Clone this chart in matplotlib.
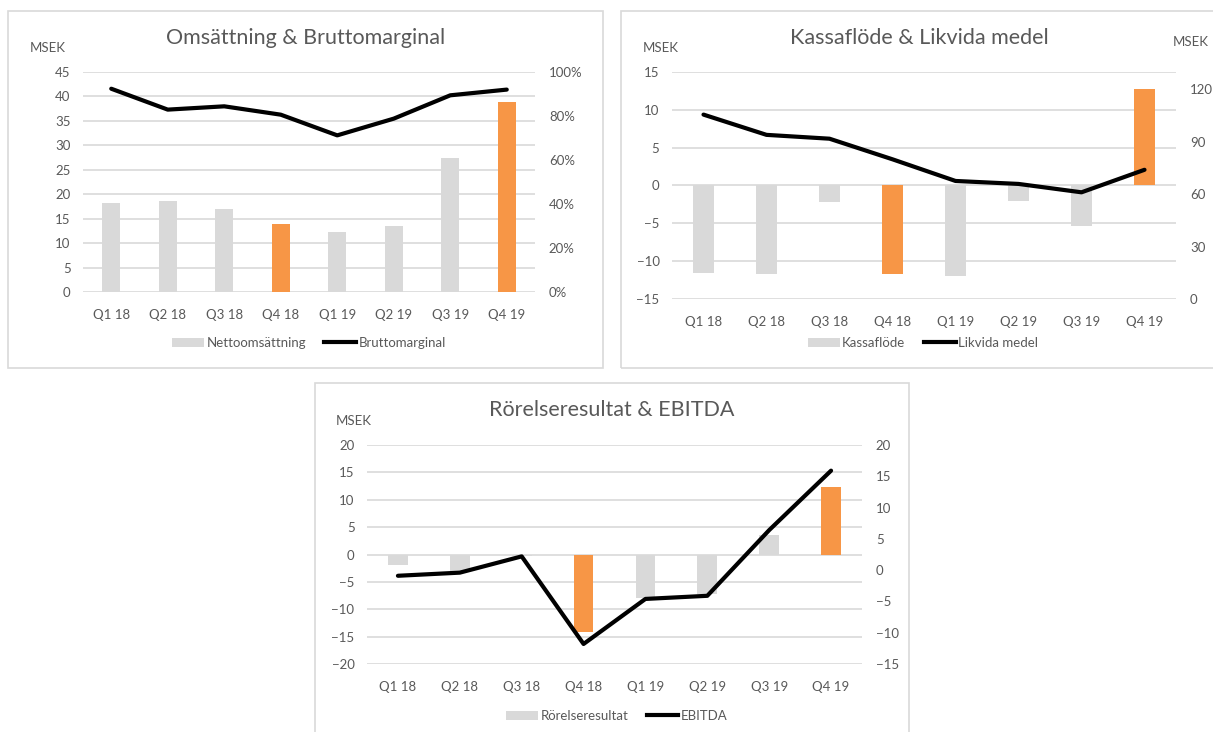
import matplotlib.pyplot as plt
from matplotlib.patches import Rectangle, Patch
from matplotlib.lines import Line2D
from matplotlib.ticker import FuncFormatter

plt.rcParams['font.family'] = ['Lato', 'DejaVu Sans']

quarters = ["Q1 18", "Q2 18", "Q3 18", "Q4 18", "Q1 19", "Q2 19", "Q3 19", "Q4 19"]

# Omsättning & Bruttomarginal
nettoomsattning = [18.2, 18.7, 16.9, 14.0, 12.2, 13.4, 27.5, 38.8]
bruttomarginal = [92.4, 82.9, 84.4, 80.6, 71.2, 78.8, 89.4, 92.0]

# Kassaflöde & Likvida medel
kassaflode = [-11.6, -11.7, -2.2, -11.7, -12.0, -2.0, -5.4, 12.8]
likvida_medel = [105.6, 94.0, 91.8, 80.0, 67.6, 65.9, 61.1, 74.0]

# Rörelseresultat & EBITDA
rorelseresultat = [-1.9, -3.2, -0.3, -14.2, -7.9, -7.3, 3.5, 12.3]
ebitda = [-0.9, -0.4, 2.2, -11.8, -4.6, -4.1, 6.4, 15.9]

GRAY = "#d9d9d9"
ORANGE = "#f79646"
TEXT = "#595959"
W, H = 1213, 732

bar_colors = [ORANGE if q.startswith("Q4") else GRAY for q in quarters]

fig = plt.figure(figsize=(W / 100, H / 100), dpi=100)


def fx(x):
    return x / W


def fy(y):
    return 1 - y / H


def panel(x0, y0, x1, y1):
    fig.patches.append(Rectangle((fx(x0), fy(y1)), fx(x1 - x0), (y1 - y0) / H,
                                 transform=fig.transFigure, fill=False,
                                 edgecolor=GRAY, lw=1.2))


def make_chart(box, bars, line, left_lim, left_ticks, right_lim, right_ticks,
               title, title_xy, legend_labels, legend_xy, right_fmt=None):
    x0, y0, x1, y1 = box
    ax = fig.add_axes([fx(x0), fy(y1), fx(x1 - x0), (y1 - y0) / H])
    pos = range(len(quarters))
    ax.bar(pos, bars, width=0.32, color=bar_colors, zorder=2)
    ax.set_xlim(-0.5, len(quarters) - 0.5)
    ax.set_ylim(*left_lim)
    ax.set_yticks(left_ticks)
    ax.set_xticks(list(pos))
    ax.set_xticklabels(quarters)
    ax.grid(axis="y", color=GRAY, lw=1.2)
    ax.set_axisbelow(True)
    for s in ax.spines.values():
        s.set_visible(False)
    ax.tick_params(length=0, labelsize=9.5, colors=TEXT)
    ax.tick_params(axis="y", pad=9)
    ax.tick_params(axis="x", pad=12)

    ax2 = ax.twinx()
    ax2.plot(pos, line, color="black", lw=3, solid_capstyle="round")
    ax2.set_ylim(*right_lim)
    ax2.set_yticks(right_ticks)
    if right_fmt:
        ax2.yaxis.set_major_formatter(right_fmt)
    for s in ax2.spines.values():
        s.set_visible(False)
    ax2.tick_params(length=0, labelsize=9.5, colors=TEXT, pad=10)

    fig.text(fx(title_xy[0]), fy(title_xy[1]), title, fontsize=15.5,
             color=TEXT, ha="center", va="center")

    handles = [Patch(facecolor=GRAY, edgecolor="none"),
               Line2D([], [], color="black", lw=3)]
    fig.legend(handles, legend_labels, loc="center",
               bbox_to_anchor=(fx(legend_xy[0]), fy(legend_xy[1])),
               ncol=2, frameon=False, fontsize=9.5, labelcolor=TEXT,
               handlelength=2.4, handletextpad=0.2, columnspacing=1.4)
    return ax, ax2


# panel frames
panel(8, 11, 603, 368)
panel(621, 11, 1240, 368)
panel(315, 383, 909, 760)

pct = FuncFormatter(lambda v, p: f"{v:.0f}%")

make_chart((83, 72, 535, 292), nettoomsattning, bruttomarginal,
           (0, 45), range(0, 46, 5), (0, 100), range(0, 101, 20),
           "Omsättning & Bruttomarginal", (306, 38),
           ["Nettoomsättning", "Bruttomarginal"], (309, 343), pct)
fig.text(fx(30), fy(48), "MSEK", fontsize=9.5, color=TEXT, va="center")

make_chart((672, 72, 1176, 299), kassaflode, likvida_medel,
           (-15, 15), range(-15, 16, 5), (0, 130), range(0, 121, 30),
           "Kassaflöde & Likvida medel", (919, 38),
           ["Kassaflöde", "Likvida medel"], (923, 343))
fig.text(fx(643), fy(48), "MSEK", fontsize=9.5, color=TEXT, va="center")
fig.text(fx(1173), fy(42), "MSEK", fontsize=9.5, color=TEXT, va="center")

make_chart((367, 445, 862, 664), rorelseresultat, ebitda,
           (-20, 20), range(-20, 21, 5), (-15, 20), range(-15, 21, 5),
           "Rörelseresultat & EBITDA", (612, 410),
           ["Rörelseresultat", "EBITDA"], (617, 716))
fig.text(fx(336), fy(421), "MSEK", fontsize=9.5, color=TEXT, va="center")

fig.savefig("out.png", dpi=100, facecolor="white")
